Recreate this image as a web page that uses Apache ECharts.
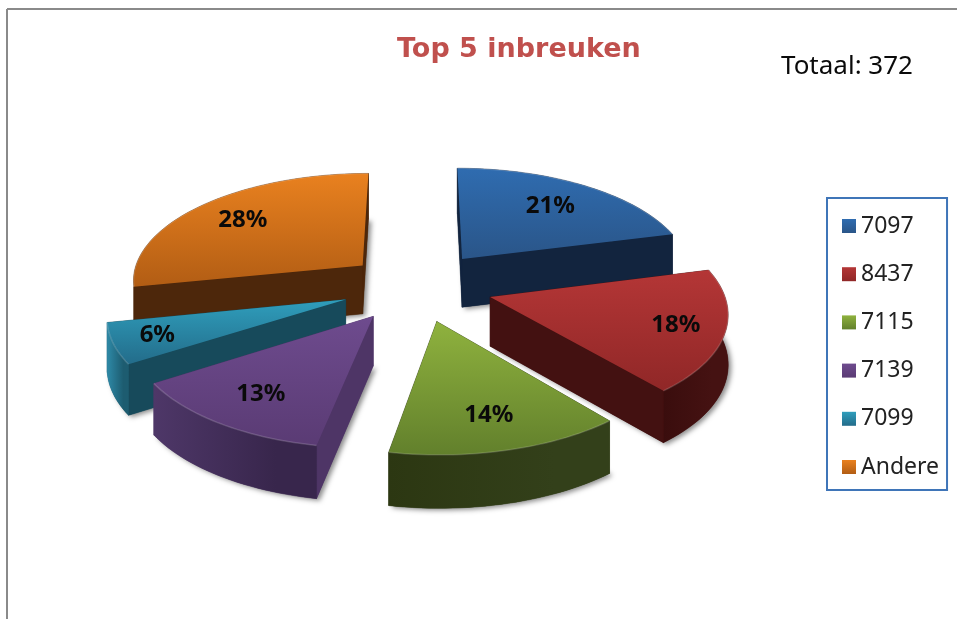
<!DOCTYPE html>
<html>

<head>
	<meta charset="UTF-8">
	<title>Top 5 inbreuken</title>
	<style>
		html, body { margin: 0; padding: 0; background: #fff; }
		#container { width: 957px; height: 619px; }
	</style>
</head>

<body>
	<div id="container"></div>
	<script src="https://cdn.jsdelivr.net/npm/echarts@6/dist/echarts.min.js"></script>
	<script type="text/javascript">
		var categories = ['7097', '8437', '7115', '7139', '7099', 'Andere'];
		var values = [78, 67, 52, 48, 22, 105];
		var total = 372;

		// top face gradient, radial wall and outer wall colours
		var topColors = [['#2F6CB0', '#2A5588'], ['#B43636', '#902727'], ['#8FB23E', '#62802C'],
			['#6E4B8E', '#5A3B74'], ['#2F9EBC', '#236C8A'], ['#E9811F', '#B25D14']];
		var wallColors = ['#12243E', '#431111', '#2E3913', '#4E3566', '#174A5B', '#4D270B'];
		var arcColors = [['#12243E', '#12243E'], ['#3A0D0D', '#451212'], ['#2C3712', '#33401A'],
			['#4E3768', '#38264C'], ['#2E8AA8', '#1D5C70'], ['#4D270B', '#4D270B']];
		var labelRadius = [155, 175, 165, 165, 180, 162];
		var explode = [72, 72, 72, 72, 72, 68];

		// projection of the tilted pie
		var cx = 417, cy = 286;
		var radius = 220;
		var tilt = 0.49, persp = 0.00055, stretch = 1.055, depth = 49;

		function project(gx, gz) {
			var s = 1 / (1 - persp * gz);
			return { x: cx + gx * s * stretch, y: cy + gz * s * tilt, s: s };
		}

		// point on the ground plane, angle clockwise from the back of the pie
		function ground(ex, ez, angle, r) {
			return project(ex + r * Math.sin(angle), ez - r * Math.cos(angle));
		}

		function lower(p) {
			return [p.x, p.y + depth * Math.sqrt(p.s)];
		}

		function wall(tops, color) {
			var pts = [];
			var i;
			for (i = 0; i < tops.length; i++) {
				pts.push([tops[i].x, tops[i].y]);
			}
			for (i = tops.length - 1; i >= 0; i--) {
				pts.push(lower(tops[i]));
			}
			return {
				type: 'polygon',
				shape: { points: pts },
				style: { fill: color, stroke: color, lineWidth: 0.5 }
			};
		}

		function makeSlice(index) {
			var before = 0;
			for (var i = 0; i < index; i++) {
				before += values[i];
			}
			var a0 = before / total * Math.PI * 2;
			var a1 = (before + values[index]) / total * Math.PI * 2;
			var mid = (a0 + a1) / 2;
			var ex = explode[index] * Math.sin(mid);
			var ez = -explode[index] * Math.cos(mid);
			var apex = project(ex, ez);

			var arc = [];
			var steps = Math.ceil((a1 - a0) / 0.03);
			for (var k = 0; k <= steps; k++) {
				arc.push(ground(ex, ez, a0 + (a1 - a0) * k / steps, radius));
			}

			var arcFill = new echarts.graphic.LinearGradient(0, 0, 1, 0, [
				{ offset: 0, color: arcColors[index][0] },
				{ offset: 0.75, color: arcColors[index][1] },
				{ offset: 1, color: arcColors[index][1] }
			]);

			// back walls first, the top face hides what is left of them
			var walls = [
				{ z: ez - radius * Math.cos(a0) / 2, el: wall([apex, arc[0]], wallColors[index]) },
				{ z: ez - radius * Math.cos(a1) / 2, el: wall([apex, arc[arc.length - 1]], wallColors[index]) },
				{ z: ez - radius * Math.cos(mid), el: wall(arc, arcFill) }
			];
			walls.sort(function (a, b) { return a.z - b.z; });

			var topPts = [[apex.x, apex.y]];
			var floorPts = [lower(apex)];
			var rimPts = [];
			for (var n = 0; n < arc.length; n++) {
				topPts.push([arc[n].x, arc[n].y]);
				floorPts.push(lower(arc[n]));
				rimPts.push([arc[n].x, arc[n].y]);
			}
			var lab = ground(ex, ez, mid, labelRadius[index]);

			// soft shadow comes from the floor of the slice only
			var children = [{
				type: 'polygon',
				shape: { points: floorPts },
				style: {
					fill: wallColors[index],
					shadowBlur: 5,
					shadowColor: 'rgba(0,0,0,0.45)',
					shadowOffsetX: 3,
					shadowOffsetY: 2
				}
			}];
			for (var w = 0; w < walls.length; w++) {
				children.push(walls[w].el);
			}
			children.push({
				type: 'polygon',
				shape: { points: topPts },
				style: {
					fill: new echarts.graphic.LinearGradient(0, 0, 0, 1, [
						{ offset: 0, color: topColors[index][0] },
						{ offset: 1, color: topColors[index][1] }
					])
				}
			});
			children.push({
				type: 'polyline',
				shape: { points: rimPts },
				style: { fill: 'none', stroke: 'rgba(255,255,255,0.16)', lineWidth: 1.5 }
			});
			children.push({
				type: 'text',
				z2: 10,
				style: {
					text: Math.round(values[index] / total * 100) + '%',
					x: lab.x,
					y: lab.y,
					fill: '#0a0a0a',
					font: 'bold 24px "Noto Sans"',
					textAlign: 'center',
					textVerticalAlign: 'middle'
				}
			});
			return { type: 'group', children: children };
		}

		var seriesList = [];
		categories.forEach(function (name, index) {
			var before = 0;
			for (var i = 0; i < index; i++) {
				before += values[i];
			}
			var mid = (before + values[index] / 2) / total * Math.PI * 2;
			seriesList.push({
				name: name,
				type: 'custom',
				coordinateSystem: 'none',
				silent: true,
				// slices nearer to the viewer are painted later
				z: 5 - Math.cos(mid),
				itemStyle: {
					color: new echarts.graphic.LinearGradient(0, 0, 0, 1, [
						{ offset: 0, color: topColors[index][0] },
						{ offset: 1, color: topColors[index][1] }
					])
				},
				data: [[values[index]]],
				renderItem: function () {
					return makeSlice(index);
				}
			});
		});

		var myChart = echarts.init(document.getElementById('container'));
		var option = {
			backgroundColor: '#fff',
			animation: false,
			title: [{
				text: 'Top 5 inbreuken',
				left: 392,
				top: 31,
				textStyle: { fontFamily: 'DejaVu Sans', fontSize: 27, fontWeight: 'bold', color: '#C0504D' }
			}, {
				text: 'Totaal: 372',
				left: 776,
				top: 49,
				textStyle: { fontFamily: 'Noto Sans', fontSize: 26, fontWeight: 'normal', color: '#0a0a0a' }
			}],
			legend: {
				orient: 'vertical',
				left: 827,
				top: 198,
				padding: [16, 8, 11, 15],
				itemGap: 24.2,
				itemWidth: 14,
				itemHeight: 14,
				icon: 'rect',
				borderColor: '#3F75B8',
				borderWidth: 2,
				selectedMode: false,
				textStyle: { fontFamily: 'Noto Sans', fontSize: 23, color: '#222', lineHeight: 24 },
				data: categories
			},
			graphic: [
				{ type: 'line', shape: { x1: 7, y1: 9, x2: 957, y2: 9 }, style: { stroke: '#8a8a8a', lineWidth: 2 } },
				{ type: 'line', shape: { x1: 7, y1: 9, x2: 7, y2: 619 }, style: { stroke: '#8a8a8a', lineWidth: 2 } }
			],
			series: seriesList
		};
		myChart.setOption(option);
	</script>

</body>

</html>
